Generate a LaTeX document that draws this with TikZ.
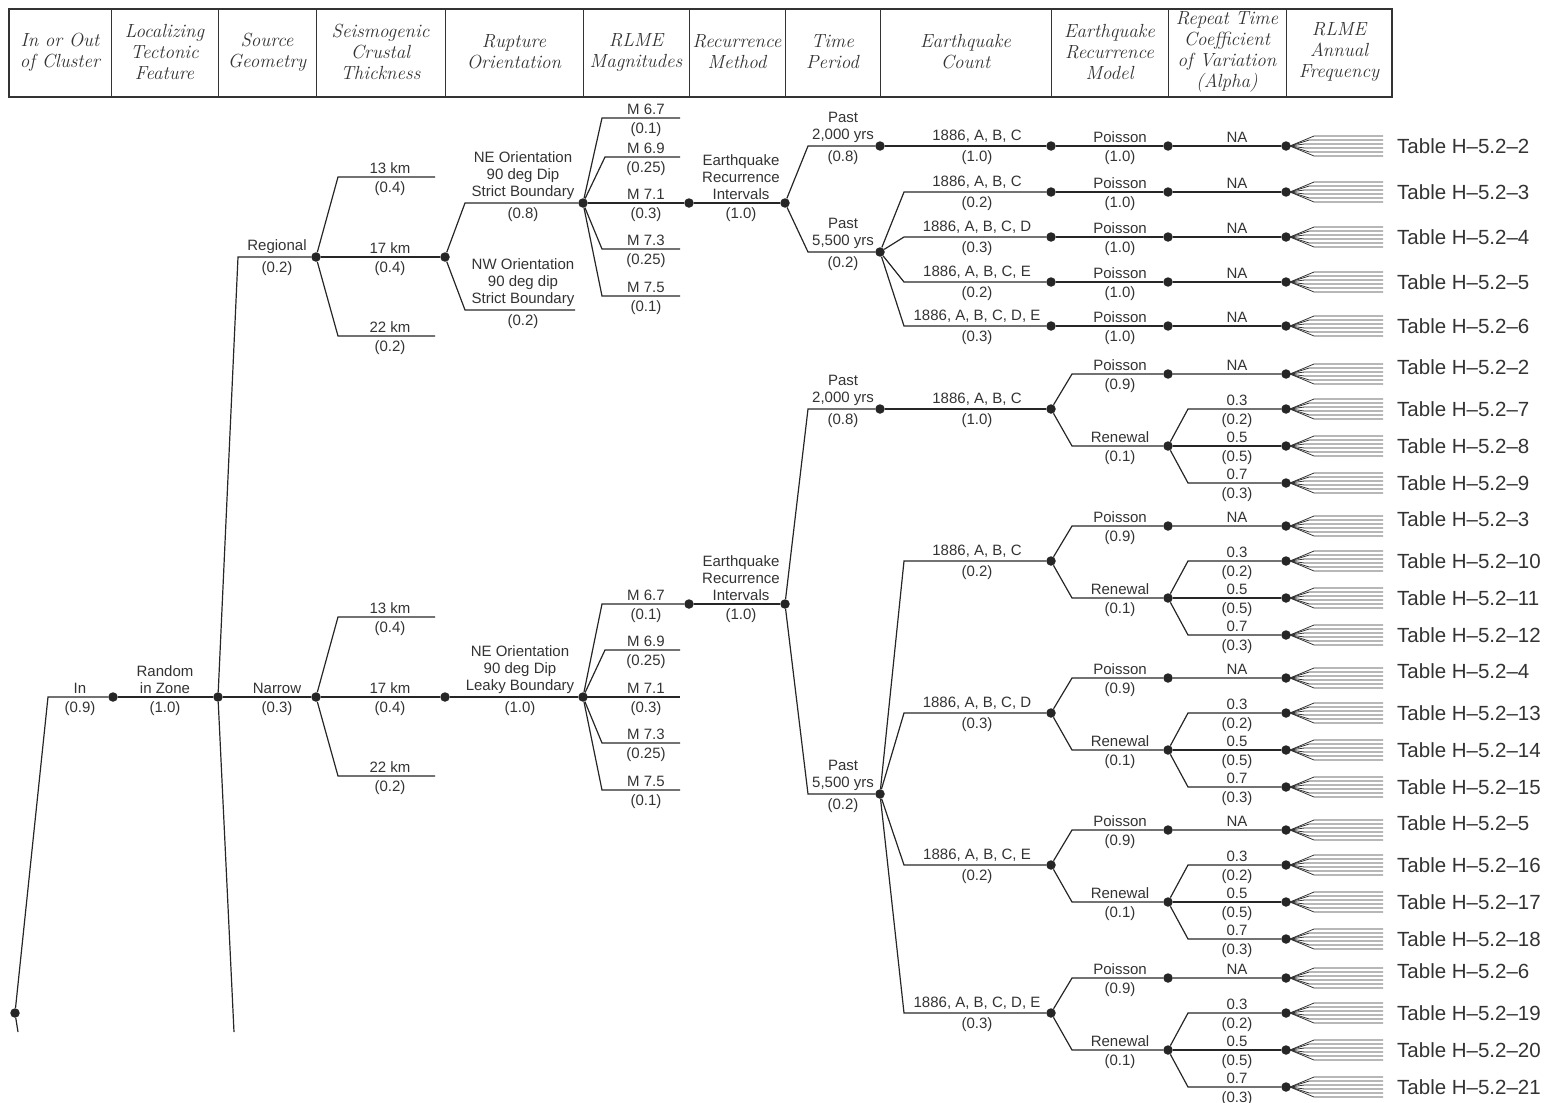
\documentclass[tikz,border=0pt]{standalone}
\usepackage{fontspec}
\newfontfamily\cadfont{Liberation Sans}

% branch text: name, x, y, above, below
\newcommand{\blabel}[5]{%
  \node[up] (#1a) at (#2,#3) {#4};
  \node[dn] (#1b) at (#2,#3) {#5};}
% bundle of lines behind a frequency node
\newcommand{\fan}[1]{%
  \foreach \o in {-10,-6,-2,2,6,10}
    \draw[fanln] ([xshift=4pt]#1.center) -- ++({12+1.2*abs(\o)},\o) -- ++({81-1.2*abs(\o)},0);}

\begin{document}
\begin{tikzpicture}[x=1pt,y=-1pt,
  ln/.style={draw=black!85,line width=1.2pt},
  fanln/.style={draw=black!80,line width=.8pt},
  dot/.style={circle,fill=black!85,inner sep=0pt,minimum size=9.5pt},
  lbl/.style={font=\cadfont\fontsize{15}{17}\selectfont,text=black!80,inner sep=0pt,align=center},
  up/.style={lbl,anchor=south,yshift=3pt},
  dn/.style={lbl,anchor=north,yshift=-4pt},
  hd/.style={font=\itshape\fontsize{19}{21}\selectfont,text=black!80,align=center},
  tbl/.style={font=\cadfont\fontsize{20.5}{22}\selectfont,text=black!80,anchor=west,inner sep=0pt}
]
\useasboundingbox (0,0) rectangle (1545,1103);

% header row
\draw[black!80,line width=1.4pt] (9,9) rectangle (1392,97);
\foreach \x in {111,218,316,445,583,689,785,880,1051,1168,1286}
  \draw[black!80,line width=1pt] (\x,9) -- (\x,97);
\foreach \cx/\txt [count=\i] in {60/{In or Out\\of Cluster},
    164.5/{Localizing\\Tectonic\\Feature}, 267/{Source\\Geometry},
    380.5/{Seismogenic\\Crustal\\Thickness}, 514/{Rupture\\Orientation},
    636/{RLME\\Magnitudes}, 737/{Recurrence\\Method}, 832.5/{Time\\Period},
    965.5/{Earthquake\\Count}, 1109.5/{Earthquake\\Recurrence\\Model},
    1227/{Repeat Time\\Coefficient\\of Variation\\(Alpha)},
    1339/{RLME\\Annual\\Frequency}}
  \node[hd] (head\i) at (\cx,52) {\txt};

% left part of the tree
\node[dot] (root) at (15,1013) {};
\node[dot] (in) at (113,697) {};
\node[dot] (loc) at (218,697) {};
\node[dot] (reg) at (316,257) {};
\node[dot] (nar) at (316,697) {};
\node[dot] (rk) at (445,257) {};
\node[dot] (nk) at (445,697) {};
\node[dot] (rne) at (583,203) {};
\node[dot] (nne) at (583,697) {};
\node[dot] (rm) at (689,203) {};
\node[dot] (nm) at (689,604) {};
\node[dot] (rei) at (785,203) {};
\node[dot] (nei) at (785,604) {};
\node[dot] (rp2) at (880,146) {};
\node[dot] (rp5) at (880,252) {};
\node[dot] (np2) at (880,409) {};
\node[dot] (np5) at (880,794) {};
\coordinate (outcut) at (18,1032);
\coordinate (loccut) at (234,1032);
\coordinate (rk13) at (435,177);
\coordinate (rk22) at (435,336);
\coordinate (nk13) at (435,617);
\coordinate (nk22) at (435,776);
\coordinate (rnw) at (575,310);

\draw[ln] (root) -- (48,697) -- (in);
\draw[ln] (root) -- (outcut);
\draw[ln] (in) -- (loc);
\draw[ln] (loc) -- (238,257) -- (reg);
\draw[ln] (loc) -- (nar);
\draw[ln] (loc) -- (loccut);
\blabel{tin}{80}{697}{In}{(0.9)}
\blabel{tloc}{165}{697}{Random\\in Zone}{(1.0)}
\blabel{treg}{277}{257}{Regional}{(0.2)}
\blabel{tnar}{277}{697}{Narrow}{(0.3)}

\draw[ln] (reg) -- (338,177) -- (rk13);
\draw[ln] (reg) -- (rk);
\draw[ln] (reg) -- (338,336) -- (rk22);
\draw[ln] (nar) -- (338,617) -- (nk13);
\draw[ln] (nar) -- (nk);
\draw[ln] (nar) -- (338,776) -- (nk22);
\blabel{trk13}{390}{177}{13 km}{(0.4)}
\blabel{trk17}{390}{257}{17 km}{(0.4)}
\blabel{trk22}{390}{336}{22 km}{(0.2)}
\blabel{tnk13}{390}{617}{13 km}{(0.4)}
\blabel{tnk17}{390}{697}{17 km}{(0.4)}
\blabel{tnk22}{390}{776}{22 km}{(0.2)}

\draw[ln] (rk) -- (465,203) -- (rne);
\draw[ln] (rk) -- (465,310) -- (rnw);
\draw[ln] (nk) -- (nne);
\blabel{trne}{523}{203}{NE Orientation\\90 deg Dip\\Strict Boundary}{(0.8)}
\blabel{trnw}{523}{310}{NW Orientation\\90 deg dip\\Strict Boundary}{(0.2)}
\blabel{tnne}{520}{697}{NE Orientation\\90 deg Dip\\Leaky Boundary}{(1.0)}

% magnitudes
\foreach \y/\cx/\m/\p [count=\i] in {118/602/M 6.7/(0.1), 157/605/M 6.9/(0.25),
    249/602/M 7.3/(0.25), 296/602/M 7.5/(0.1)} {
  \coordinate (rmag\i) at (680,\y);
  \draw[ln] (rne) -- (\cx,\y) -- (rmag\i);
  \blabel{trmag\i}{646}{\y}{\m}{\p}
}
\draw[ln] (rne) -- (rm);
\blabel{trm}{646}{203}{M 7.1}{(0.3)}
\foreach \y/\cx/\m/\p [count=\i] in {650/605/M 6.9/(0.25), 697/583/M 7.1/(0.3),
    743/602/M 7.3/(0.25), 790/602/M 7.5/(0.1)} {
  \coordinate (nmag\i) at (680,\y);
  \draw[ln] (nne) -- (\cx,\y) -- (nmag\i);
  \blabel{tnmag\i}{646}{\y}{\m}{\p}
}
\draw[ln] (nne) -- (602,604) -- (nm);
\blabel{tnm}{646}{604}{M 6.7}{(0.1)}

% recurrence method and time period
\draw[ln] (rm) -- (rei);
\draw[ln] (nm) -- (nei);
\blabel{trei}{741}{203}{Earthquake\\Recurrence\\Intervals}{(1.0)}
\blabel{tnei}{741}{604}{Earthquake\\Recurrence\\Intervals}{(1.0)}
\draw[ln] (rei) -- (808,146) -- (rp2);
\draw[ln] (rei) -- (808,252) -- (rp5);
\draw[ln] (nei) -- (808,409) -- (np2);
\draw[ln] (nei) -- (808,794) -- (np5);
\blabel{trp2}{843}{146}{Past\\2,000 yrs}{(0.8)}
\blabel{trp5}{843}{252}{Past\\5,500 yrs}{(0.2)}
\blabel{tnp2}{843}{409}{Past\\2,000 yrs}{(0.8)}
\blabel{tnp5}{843}{794}{Past\\5,500 yrs}{(0.2)}

% regional branch: Poisson only
\foreach \y/\cnt/\p/\t [count=\i] in {146/{1886, A, B, C}/(1.0)/2,
    192/{1886, A, B, C}/(0.2)/3, 237/{1886, A, B, C, D}/(0.3)/4,
    282/{1886, A, B, C, E}/(0.2)/5, 326/{1886, A, B, C, D, E}/(0.3)/6} {
  \node[dot] (uc\i) at (1051,\y) {};
  \node[dot] (um\i) at (1168,\y) {};
  \node[dot] (uf\i) at (1286,\y) {};
  \draw[ln] (uc\i) -- (um\i) -- (uf\i);
  \blabel{tuc\i}{977}{\y}{\cnt}{\p}
  \blabel{tum\i}{1120}{\y}{Poisson}{(1.0)}
  \node[up] (tuf\i) at (1237,\y) {NA};
  \fan{uf\i}
  \node[tbl] (utab\i) at (1397,\y) {Table H–5.2–\t};
}
\draw[ln] (rp2) -- (uc1);
\foreach \i in {2,...,5}
  \draw[ln] (rp5) -- ([xshift=-147pt]uc\i.center) -- (uc\i);

% narrow branch: Poisson and renewal
\foreach \y/\cnt/\p [count=\g] in {409/{1886, A, B, C}/(1.0),
    561/{1886, A, B, C}/(0.2), 713/{1886, A, B, C, D}/(0.3),
    865/{1886, A, B, C, E}/(0.2), 1013/{1886, A, B, C, D, E}/(0.3)} {
  \pgfmathtruncatemacro\yp{\y-35}
  \pgfmathtruncatemacro\yr{\y+37}
  \pgfmathtruncatemacro\yc{\y+74}
  \pgfmathtruncatemacro\ytp{\y-42}
  \pgfmathtruncatemacro\tp{\g+1}
  \pgfmathtruncatemacro\ta{3*\g+4}
  \pgfmathtruncatemacro\tb{3*\g+5}
  \pgfmathtruncatemacro\tc{3*\g+6}
  \node[dot] (lc\g) at (1051,\y) {};
  \node[dot] (lp\g) at (1168,\yp) {};
  \node[dot] (lr\g) at (1168,\yr) {};
  \node[dot] (lpf\g) at (1286,\yp) {};
  \node[dot] (lfa\g) at (1286,\y) {};
  \node[dot] (lfb\g) at (1286,\yr) {};
  \node[dot] (lfc\g) at (1286,\yc) {};
  \draw[ln] (lc\g) -- (1072,\yp) -- (lp\g) -- (lpf\g);
  \draw[ln] (lc\g) -- (1072,\yr) -- (lr\g);
  \draw[ln] (lr\g) -- (1188,\y) -- (lfa\g);
  \draw[ln] (lr\g) -- (lfb\g);
  \draw[ln] (lr\g) -- (1188,\yc) -- (lfc\g);
  \blabel{tlc\g}{977}{\y}{\cnt}{\p}
  \blabel{tlp\g}{1120}{\yp}{Poisson}{(0.9)}
  \blabel{tlr\g}{1120}{\yr}{Renewal}{(0.1)}
  \node[up] (tlpf\g) at (1237,\yp) {NA};
  \blabel{tlfa\g}{1237}{\y}{0.3}{(0.2)}
  \blabel{tlfb\g}{1237}{\yr}{0.5}{(0.5)}
  \blabel{tlfc\g}{1237}{\yc}{0.7}{(0.3)}
  \fan{lpf\g} \fan{lfa\g} \fan{lfb\g} \fan{lfc\g}
  \node[tbl] (ltp\g) at (1397,\ytp) {Table H–5.2–\tp};
  \node[tbl] (lta\g) at (1397,\y) {Table H–5.2–\ta};
  \node[tbl] (ltb\g) at (1397,\yr) {Table H–5.2–\tb};
  \node[tbl] (ltc\g) at (1397,\yc) {Table H–5.2–\tc};
}
\draw[ln] (np2) -- (lc1);
\foreach \g in {2,...,5}
  \draw[ln] (np5) -- ([xshift=-147pt]lc\g.center) -- (lc\g);
\end{tikzpicture}
\end{document}
